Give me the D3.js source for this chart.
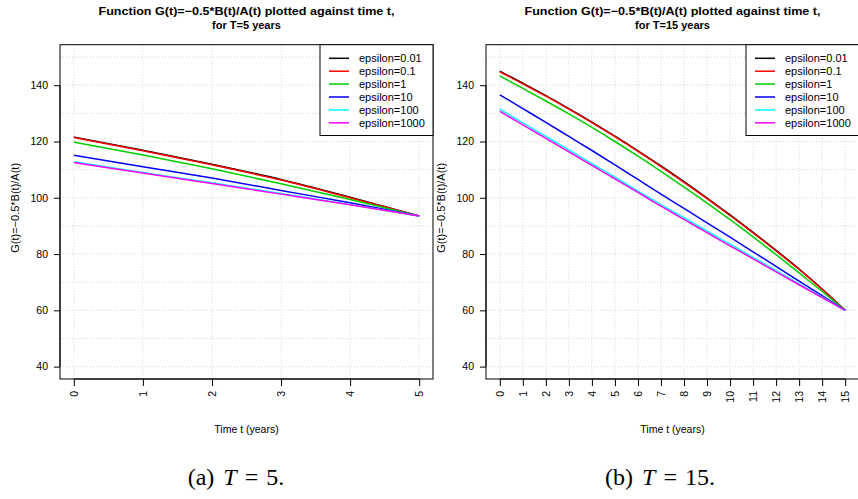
<!DOCTYPE html>
<html>
<head>
<meta charset="utf-8">
<script src="https://cdn.jsdelivr.net/npm/d3@7"></script>
<style>
  body { margin: 0; background: #fff; }
  svg { display: block; }
  text { font-family: "Liberation Sans", Arial, Helvetica, sans-serif; fill: #000; }
</style>
</head>
<body>
<svg id="chart" width="858" height="499"></svg>
<script>
// series names shown in the legends
var seriesNames = ["epsilon=0.01", "epsilon=0.1", "epsilon=1", "epsilon=10", "epsilon=100", "epsilon=1000"];

// T = 5 years
var timeT5 = [0, 1, 2, 3, 4, 5];
var gT5_eps0_01 = [121.6, 116.9, 111.9, 106.5, 100.2, 93.5];
var gT5_eps0_1  = [121.4, 116.7, 111.7, 106.3, 100.0, 93.5];
var gT5_eps1    = [119.8, 115.2, 110.3, 105.0, 99.4, 93.5];
var gT5_eps10   = [115.1, 111.0, 107.0, 102.6, 98.2, 93.5];
var gT5_eps100  = [112.8, 109.0, 105.3, 101.5, 97.6, 93.5];
var gT5_eps1000 = [112.5, 108.8, 105.1, 101.3, 97.5, 93.5];

// T = 15 years
var timeT15 = [0, 1, 2, 3, 4, 5, 6, 7, 8, 9, 10, 11, 12, 13, 14, 15];
var gT15_eps0_01 = [145.0, 140.7, 136.3, 131.7, 126.9, 121.9, 116.7, 111.3, 105.7, 99.9, 93.9, 87.7, 81.3, 74.7, 67.6, 60.0];
var gT15_eps0_1  = [144.8, 140.5, 136.1, 131.5, 126.7, 121.7, 116.5, 111.1, 105.5, 99.7, 93.7, 87.5, 81.1, 74.5, 67.4, 60.0];
var gT15_eps1    = [143.3, 138.9, 134.4, 129.8, 125.0, 120.0, 114.8, 109.4, 103.8, 98.1, 92.2, 86.1, 79.8, 73.3, 66.7, 60.0];
var gT15_eps10   = [136.6, 131.7, 126.8, 121.8, 116.8, 111.7, 106.5, 101.3, 96.2, 91.1, 86.0, 80.8, 75.6, 70.4, 65.2, 60.0];
var gT15_eps100  = [131.5, 126.6, 121.8, 117.0, 112.1, 107.3, 102.4, 97.6, 92.9, 88.2, 83.5, 78.8, 74.1, 69.4, 64.7, 60.0];
var gT15_eps1000 = [130.7, 125.9, 121.1, 116.3, 111.5, 106.7, 101.9, 97.0, 92.3, 87.6, 82.9, 78.3, 73.7, 69.1, 64.5, 60.0];

// axis limits (R style, 4% padding added below)
var yLimits = [40, 150];
var yTickLabels = [40, 60, 80, 100, 120, 140];
var yGridValues = [40, 50, 60, 70, 80, 90, 100, 110, 120, 130, 140, 150];

var lineColors = ["#000000", "#ff0000", "#00cd00", "#0000ff", "#00ffff", "#ff00ff"];

var svg = d3.select("#chart");

function drawPanel(opts) {
  var T = opts.T;
  var left = opts.left, right = opts.right, top = 44.7, bottom = 379;

  var x = d3.scaleLinear().domain([-0.04 * T, 1.04 * T]).range([left, right]);
  var yPad = (yLimits[1] - yLimits[0]) * 0.04;
  var y = d3.scaleLinear().domain([yLimits[0] - yPad, yLimits[1] + yPad]).range([bottom, top]);

  var g = svg.append("g");

  // dotted grid
  g.selectAll(".vgrid").data(opts.time).enter().append("line")
    .attr("x1", function (d) { return x(d); }).attr("x2", function (d) { return x(d); })
    .attr("y1", top).attr("y2", bottom)
    .attr("stroke", "#d3d3d3").attr("stroke-dasharray", "1,2");
  g.selectAll(".hgrid").data(yGridValues).enter().append("line")
    .attr("x1", left).attr("x2", right)
    .attr("y1", function (d) { return y(d); }).attr("y2", function (d) { return y(d); })
    .attr("stroke", "#d3d3d3").attr("stroke-dasharray", "1,2");

  // curves
  var line = d3.line()
    .x(function (d, i) { return x(opts.time[i]); })
    .y(function (d) { return y(d); })
    .curve(d3.curveMonotoneX);
  opts.series.forEach(function (s, i) {
    g.append("path")
      .attr("d", line(s))
      .attr("fill", "none")
      .attr("stroke", lineColors[i])
      .attr("stroke-width", 1.5);
  });

  // box
  g.append("rect")
    .attr("x", left).attr("y", top)
    .attr("width", right - left).attr("height", bottom - top)
    .attr("fill", "none").attr("stroke", "#000").attr("stroke-width", 1);

  // y axis
  var yAxis = d3.axisLeft(y).tickValues(yTickLabels).tickSize(6).tickPadding(6);
  var ya = g.append("g").attr("transform", "translate(" + left + ",0)").call(yAxis);
  ya.select(".domain").attr("d", "M0," + y(40) + "V" + y(140));
  ya.selectAll("text").style("font-size", "10.5px");
  ya.selectAll("line").attr("stroke", "#000");

  // x axis, labels rotated
  var xAxis = d3.axisBottom(x).tickValues(opts.time).tickSize(7).tickFormat(d3.format("d"));
  var xa = g.append("g").attr("transform", "translate(0," + bottom + ")").call(xAxis);
  xa.select(".domain").attr("d", "M" + x(0) + ",0H" + x(T));
  xa.selectAll("line").attr("stroke", "#000");
  xa.selectAll("text")
    .attr("transform", "rotate(-90)")
    .attr("x", -12).attr("y", 0).attr("dy", "0.35em")
    .attr("text-anchor", "end")
    .style("font-size", "10.5px");
  xa.attr("font-family", null);
  ya.attr("font-family", null);

  var cx = (left + right) / 2;
  // title
  g.append("text").attr("x", cx).attr("y", 14.5).attr("text-anchor", "middle")
    .style("font-weight", "bold").style("font-size", "11px")
    .attr("textLength", 296).attr("lengthAdjust", "spacingAndGlyphs")
    .text("Function G(t)=\u22120.5*B(t)/A(t) plotted against time t,");
  g.append("text").attr("x", cx).attr("y", 29).attr("text-anchor", "middle")
    .style("font-weight", "bold").style("font-size", "11px")
    .text("for T=" + T + " years");

  // axis titles
  g.append("text").attr("x", cx).attr("y", 433).attr("text-anchor", "middle")
    .style("font-size", "10.5px").text("Time t (years)");
  g.append("text")
    .attr("transform", "translate(" + (left - 41) + "," + ((top + bottom) / 2 - 4) + ") rotate(-90)")
    .attr("text-anchor", "middle").style("font-size", "11px")
    .text("G(t)=\u22120.5*B(t)/A(t)");

  // legend
  var lw = 113, lx = right - lw, lh = 90.8;
  g.append("rect").attr("x", lx).attr("y", top).attr("width", lw).attr("height", lh)
    .attr("fill", "#fff").attr("stroke", "#000").attr("stroke-width", 1);
  var rows = g.selectAll(".leg").data(seriesNames).enter().append("g")
    .attr("transform", function (d, i) { return "translate(" + lx + "," + (58.3 + i * 12.9) + ")"; });
  rows.append("line").attr("x1", 9).attr("x2", 29).attr("y1", 0).attr("y2", 0)
    .attr("stroke", function (d, i) { return lineColors[i]; }).attr("stroke-width", 1.5);
  rows.append("text").attr("x", 39).attr("y", 0).attr("dy", "0.35em")
    .style("font-size", "11px").text(function (d) { return d; });

  // caption, LaTeX-like spacing
  var cap = svg.append("text").attr("x", opts.capX).attr("y", 485)
    .attr("text-anchor", "middle")
    .style("font-family", "'Liberation Serif', 'DejaVu Serif', serif").style("font-size", "24px");
  cap.append("tspan").text("(" + opts.letter + ")");
  cap.append("tspan").attr("dx", 9).style("font-style", "italic").text("T");
  cap.append("tspan").attr("dx", 8).text("=");
  cap.append("tspan").attr("dx", 8).text(T + ".");
}

drawPanel({
  T: 5, left: 60, right: 433, time: timeT5, letter: "a", capX: 236,
  series: [gT5_eps0_01, gT5_eps0_1, gT5_eps1, gT5_eps10, gT5_eps100, gT5_eps1000]
});
drawPanel({
  T: 15, left: 486, right: 859, time: timeT15, letter: "b", capX: 660,
  series: [gT15_eps0_01, gT15_eps0_1, gT15_eps1, gT15_eps10, gT15_eps100, gT15_eps1000]
});
</script>
</body>
</html>
